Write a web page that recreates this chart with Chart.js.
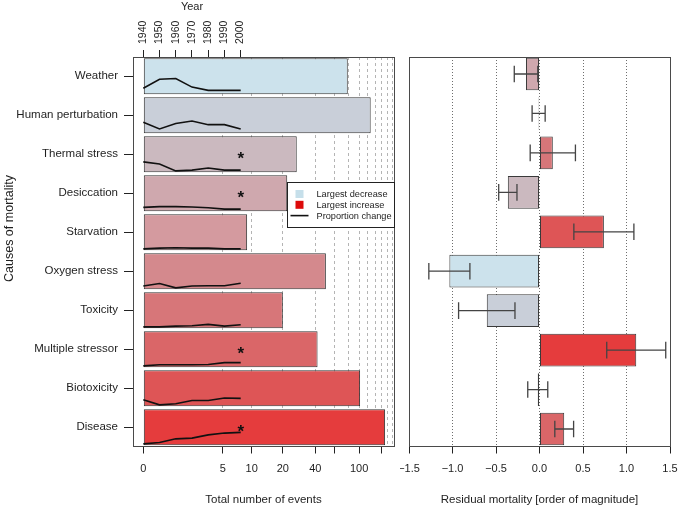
<!DOCTYPE html>
<html><head><meta charset="utf-8">
<script src="https://cdn.jsdelivr.net/npm/chart.js@4.4.1/dist/chart.umd.min.js"></script>
<style>
html,body{margin:0;padding:0;background:#fff;}
#wrap{position:relative;width:680px;height:507px;overflow:hidden;}
#c1{position:absolute;left:0;top:0;}
#c2{position:absolute;left:400px;top:0;}
</style></head><body>
<div id="wrap">
<canvas id="c1" width="400" height="507"></canvas>
<canvas id="c2" width="280" height="507"></canvas>
</div>
<script>
// ---------------- data ----------------
const causes = ['Weather','Human perturbation','Thermal stress','Desiccation','Starvation',
  'Oxygen stress','Toxicity','Multiple stressor','Biotoxicity','Disease'];
const totalEvents = [79, 127, 27, 22, 9, 50, 20, 42, 102, 171];
const significant = [false, false, true, true, false, false, false, true, false, true];
const residual    = [-0.155, -0.01, 0.153, -0.364, 0.74, -1.036, -0.606, 1.112, -0.02, 0.284];
const residualErr = [0.135, 0.075, 0.26, 0.105, 0.345, 0.236, 0.324, 0.339, 0.115, 0.108];

const years = [1940, 1950, 1960, 1970, 1980, 1990, 2000];
const propWeather      = [0.17, 0.42, 0.44, 0.20, 0.11, 0.11, 0.11];
const propHuman        = [0.31, 0.12, 0.27, 0.34, 0.24, 0.24, 0.12];
const propThermal      = [0.29, 0.23, 0.04, 0.06, 0.12, 0.06, 0.06];
const propDesiccation  = [0.11, 0.13, 0.13, 0.12, 0.10, 0.06, 0.06];
const propStarvation   = [0.04, 0.06, 0.07, 0.06, 0.06, 0.04, 0.04];
const propOxygen       = [0.09, 0.16, 0.04, 0.09, 0.10, 0.10, 0.17];
const propToxicity     = [0.04, 0.04, 0.06, 0.07, 0.11, 0.06, 0.10];
const propMultiple     = [0.04, 0.07, 0.07, 0.07, 0.08, 0.13, 0.13];
const propBiotoxicity  = [0.18, 0.04, 0.07, 0.16, 0.16, 0.23, 0.22];
const propDisease      = [0.04, 0.08, 0.18, 0.20, 0.29, 0.34, 0.36];
const proportions = [propWeather, propHuman, propThermal, propDesiccation, propStarvation,
  propOxygen, propToxicity, propMultiple, propBiotoxicity, propDisease];

const countAxisValues = [0, 5, 10, 20, 40, 60, 80, 100, 120, 140, 160, 180, 200];
const countTicks      = [0, 5, 10, 20, 40, 60, 100, 160];
const countTickLabels = {0:'0', 5:'5', 10:'10', 20:'20', 40:'40', 100:'100'};
const residualTicks      = [-1.5, -1.0, -0.5, 0, 0.5, 1.0, 1.5];
const residualTickLabels = ['\u22121.5', '\u22121.0', '\u22120.5', '0.0', '0.5', '1.0', '1.5'];

const palette = ['#cce2ec','#c9cfd9','#cbb9bf','#cfa8ae','#d49a9f','#d4898d','#d77679','#da6668','#de5556','#e53c3d'];

// ---------------- helpers ----------------
const OFF = 1.22;
const tf = v => Math.log(v + OFF) - Math.log(OFF);   // axis transform for event counts
const FONT = "'Liberation Sans', Arial, Helvetica, sans-serif";
const TXT = '#1e1e1e';
Chart.defaults.font.family = FONT;
Chart.defaults.color = TXT;

const LEFT_BAR = 0.923;
const RIGHT_BAR = 0.829;
const noPad = s => { s.paddingLeft = 0; s.paddingRight = 0; s.paddingTop = 0; s.paddingBottom = 0; };

const boxPlugin = {
  id: 'box',
  afterDatasetsDraw(chart) {
    const a = chart.chartArea, ctx = chart.ctx;
    ctx.save();
    ctx.strokeStyle = '#4a4a4a'; ctx.lineWidth = 1;
    ctx.strokeRect(a.left + 0.5, a.top + 0.5, a.right - a.left, a.bottom - a.top);
    ctx.restore();
  }
};

// ---------------- left chart ----------------
const leftDatasets = [{
  type: 'bar',
  indexAxis: 'y',
  xAxisID: 'x', yAxisID: 'y',
  data: totalEvents.map((v, i) => ({x: tf(v), y: i})),
  backgroundColor: palette,
  borderColor: '#333',
  borderWidth: 1,
  borderSkipped: false,
  barPercentage: LEFT_BAR,
  categoryPercentage: 1,
  order: 2
}];
proportions.forEach((p, i) => {
  leftDatasets.push({
    type: 'line',
    indexAxis: 'x',
    xAxisID: 'yr', yAxisID: 'y',
    data: years.map((yr, k) => ({x: yr, y: i + LEFT_BAR / 2 - p[k] * LEFT_BAR})),
    borderColor: '#111',
    borderWidth: 1.6,
    pointRadius: 0,
    tension: 0,
    fill: false,
    order: 1
  });
});

const leftExtras = {
  id: 'leftExtras',
  afterDatasetsDraw(chart) {
    const ctx = chart.ctx, a = chart.chartArea;
    const yr = chart.scales.yr, ys = chart.scales.y;
    ctx.save();
    // asterisks
    ctx.fillStyle = '#111';
    ctx.font = "bold 17px " + FONT;
    ctx.textAlign = 'center'; ctx.textBaseline = 'alphabetic';
    significant.forEach((s, i) => {
      if (s) ctx.fillText('*', yr.getPixelForValue(years[years.length - 1]), ys.getPixelForValue(i) + 10);
    });
    // legend
    const bw = 107, bh = 45, bx = a.right - bw, by = a.top + 125;
    ctx.fillStyle = '#fff';
    ctx.fillRect(bx, by, bw, bh);
    ctx.strokeStyle = '#222'; ctx.lineWidth = 1;
    ctx.strokeRect(bx + 0.5, by + 0.5, bw, bh);
    const items = [
      {label: 'Largest decrease', kind: 'box', color: '#c6dfea'},
      {label: 'Largest increase', kind: 'box', color: '#dd0a0a'},
      {label: 'Proportion change', kind: 'line', color: '#111'}
    ];
    ctx.font = "9.2px " + FONT;
    ctx.textAlign = 'left'; ctx.textBaseline = 'middle';
    items.forEach((it, k) => {
      const cy = by + 12 + k * 10.8;
      if (it.kind === 'box') {
        ctx.fillStyle = it.color;
        ctx.fillRect(bx + 8.5, cy - 4, 8, 8);
      } else {
        ctx.strokeStyle = it.color; ctx.lineWidth = 1.6;
        ctx.beginPath(); ctx.moveTo(bx + 3.5, cy); ctx.lineTo(bx + 21.5, cy); ctx.stroke();
      }
      ctx.fillStyle = TXT;
      ctx.fillText(it.label, bx + 29.5, cy + 0.5);
    });
    // axis titles drawn as text
    ctx.font = "11px " + FONT;
    ctx.textAlign = 'center'; ctx.textBaseline = 'middle';
    ctx.fillText('Year', yr.getPixelForValue((years[0] + years[years.length - 1]) / 2), 7);
    ctx.translate(10, (a.top + a.bottom) / 2 - 23);
    ctx.rotate(-Math.PI / 2);
    ctx.font = "12.5px " + FONT;
    ctx.fillText('Causes of mortality', 0, 0);
    ctx.restore();
  }
};

new Chart(document.getElementById('c1'), {
  type: 'bar',
  data: {datasets: leftDatasets},
  options: {
    responsive: false, animation: false, events: [],
    indexAxis: 'y',
    layout: {padding: {left: 0, right: 6, top: 0, bottom: 0}},
    plugins: {legend: {display: false}, tooltip: {enabled: false}},
    scales: {
      x: {
        type: 'linear', position: 'bottom', min: -0.211, max: 5.132, offset: false,
        afterBuildTicks: s => { s.ticks = countAxisValues.map(v => ({value: tf(v)})); },
        afterFit: s => { s.height = 61; noPad(s); },
        ticks: {
          autoSkip: false, maxRotation: 0, minRotation: 0, padding: 9, color: TXT,
          font: {size: 11},
          callback: (v, i) => countTickLabels[countAxisValues[i]] || ''
        },
        grid: {
          offset: false,
          color: c => (c.index === 0 ? 'rgba(0,0,0,0)' : '#b4b4b4'),
          tickColor: c => (countTicks.includes(countAxisValues[c.index]) ? '#222' : 'rgba(0,0,0,0)'),
          tickLength: 7.5, lineWidth: 1
        },
        border: {display: false, dash: [3, 3]},
        title: {display: true, text: 'Total number of events', font: {size: 11.5}, color: TXT, padding: {top: 0, bottom: 0}}
      },
      yr: {
        type: 'linear', axis: 'x', position: 'top', min: 1933.655, max: 2094.44, offset: false,
        afterBuildTicks: s => { s.ticks = years.map(v => ({value: v})); },
        afterFit: s => { s.height = 57; noPad(s); },
        ticks: {autoSkip: false, minRotation: 90, maxRotation: 90, padding: 6, labelOffset: 12.5, color: TXT, font: {size: 10.5},
          callback: v => String(v)},
        grid: {drawOnChartArea: false, tickLength: 7, tickColor: '#222', color: '#222', offset: false},
        border: {display: false}
      },
      y: {
        type: 'linear', position: 'left', reverse: true, min: -0.4949, max: 9.479, offset: false,
        afterBuildTicks: s => { s.ticks = causes.map((c, i) => ({value: i})); },
        afterFit: s => { s.width = 133; noPad(s); },
        ticks: {autoSkip: false, padding: 6, color: TXT, font: {size: 11.5}, callback: v => causes[v]},
        grid: {drawOnChartArea: false, tickLength: 9, tickColor: '#222', offset: false},
        border: {display: false}
      }
    }
  },
  plugins: [boxPlugin, leftExtras]
});

// ---------------- right chart ----------------
const sortedRes = residual.slice().sort((a, b) => a - b);
const rightColors = residual.map(v => palette[sortedRes.indexOf(v)]);

const errorBars = {
  id: 'errorBars',
  afterDatasetsDraw(chart) {
    const ctx = chart.ctx, xs = chart.scales.x, ys = chart.scales.y;
    ctx.save();
    ctx.strokeStyle = '#444'; ctx.lineWidth = 1.3;
    residual.forEach((v, i) => {
      const y = ys.getPixelForValue(i);
      const x1 = xs.getPixelForValue(v - residualErr[i]);
      const x2 = xs.getPixelForValue(v + residualErr[i]);
      ctx.beginPath();
      ctx.moveTo(x1, y); ctx.lineTo(x2, y);
      ctx.moveTo(x1, y - 8.3); ctx.lineTo(x1, y + 8.3);
      ctx.moveTo(x2, y - 8.3); ctx.lineTo(x2, y + 8.3);
      ctx.stroke();
    });
    ctx.restore();
  }
};

new Chart(document.getElementById('c2'), {
  type: 'bar',
  data: {datasets: [{
    indexAxis: 'y',
    data: residual.map((v, i) => ({x: v, y: i})),
    backgroundColor: rightColors,
    borderColor: '#3a3a3a',
    borderWidth: 1,
    borderSkipped: false,
    barPercentage: RIGHT_BAR,
    categoryPercentage: 1
  }]},
  options: {
    responsive: false, animation: false, events: [],
    indexAxis: 'y',
    layout: {padding: {left: 9, right: 10, top: 57, bottom: 0}},
    plugins: {legend: {display: false}, tooltip: {enabled: false}},
    scales: {
      x: {
        type: 'linear', position: 'bottom', min: -1.5, max: 1.5, offset: false,
        afterBuildTicks: s => { s.ticks = residualTicks.map(v => ({value: v})); },
        afterFit: s => { s.height = 61; noPad(s); },
        ticks: {autoSkip: false, maxRotation: 0, minRotation: 0, padding: 9, color: TXT, font: {size: 11},
          callback: (v, i) => residualTickLabels[i]},
        grid: {
          offset: false,
          color: c => (c.index === 0 || c.index === residualTicks.length - 1 ? 'rgba(0,0,0,0)' : '#6e6e6e'),
          tickColor: '#222', tickLength: 7.5, lineWidth: 1
        },
        border: {display: false, dash: [1, 2]},
        title: {display: true, text: 'Residual mortality [order of magnitude]', font: {size: 11.5}, color: TXT, padding: {top: 0, bottom: 0}}
      },
      y: {
        type: 'linear', position: 'left', reverse: true, min: -0.431, max: 9.431, offset: false,
        afterBuildTicks: s => { s.ticks = causes.map((c, i) => ({value: i})); },
        afterFit: s => { s.width = 0; noPad(s); },
        ticks: {display: false},
        grid: {display: false, offset: false},
        border: {display: false}
      }
    }
  },
  plugins: [boxPlugin, errorBars]
});
</script>
</body></html>
